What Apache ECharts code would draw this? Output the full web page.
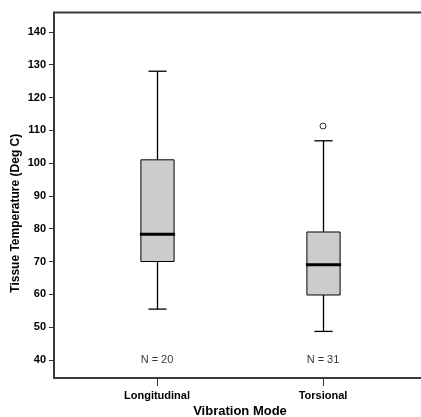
<!DOCTYPE html>
<html><head><meta charset="utf-8">
<script src="https://cdn.jsdelivr.net/npm/echarts@6/dist/echarts.min.js"></script>
<style>html,body{margin:0;padding:0;background:#fff}#c{width:421px;height:417px}</style>
</head><body><div id="c"></div>
<script>
var categories = ['Longitudinal', 'Torsional'];
// [min whisker, Q1, median, Q3, max whisker]
var boxValues = [
  [55.5, 70.0, 78.3, 101.0, 128.0],
  [48.7, 59.8, 69.0, 79.0, 106.8]
];
var outliers = [[1, 111.3]];
var nLabels = ['N = 20', 'N = 31'];
var yTicks = [40, 50, 60, 70, 80, 90, 100, 110, 120, 130, 140];
var yMin = 34.5, yMax = 145.9;

var chart = echarts.init(document.getElementById('c'), null, {renderer: 'canvas'});
var font = 'Liberation Sans, Arial, sans-serif';
var G = {top: 12.5, bottom: 39};
chart.setOption({
  animation: false,
  grid: [
    {left: 54, right: -6, top: G.top, bottom: G.bottom, show: true, borderColor: '#3a3a3a', borderWidth: 2,
     backgroundColor: 'transparent', containLabel: false, outerBoundsMode: 'none'},
    {left: 74, right: 15, top: G.top, bottom: G.bottom, containLabel: false, outerBoundsMode: 'none'}
  ],
  xAxis: [
    {gridIndex: 0, type: 'value', show: false, min: 0, max: 1},
    {gridIndex: 1, type: 'category', data: categories,
     axisLine: {show: false},
     axisTick: {show: true, alignWithLabel: true, length: 8, lineStyle: {color: '#333', width: 1}},
     axisLabel: {color: '#000', fontFamily: font, fontWeight: 'bold', fontSize: 11, margin: 12},
     name: 'Vibration Mode', nameLocation: 'middle', nameGap: 27, nameMoveOverlap: false,
     nameTextStyle: {color: '#000', fontFamily: font, fontWeight: 'bold', fontSize: 13}}
  ],
  yAxis: [
    {gridIndex: 0, type: 'value', min: yMin, max: yMax,
     axisLine: {show: false}, splitLine: {show: false},
     axisTick: {show: true, length: 5, customValues: yTicks, lineStyle: {color: '#333'}},
     axisLabel: {customValues: yTicks, color: '#000', fontFamily: font, fontWeight: 'bold', fontSize: 11, margin: 8},
     name: 'Tissue Temperature (Deg C)', nameLocation: 'middle', nameGap: 32, nameMoveOverlap: false,
     nameTextStyle: {color: '#000', fontFamily: font, fontWeight: 'bold', fontSize: 12, padding: [0, 36, 0, 0]}},
    {gridIndex: 1, type: 'value', min: yMin, max: yMax, show: false}
  ],
  series: [
    {
      type: 'custom', xAxisIndex: 1, yAxisIndex: 1,
      data: boxValues.map(function (b, i) { return [i].concat(b); }),
      renderItem: function (params, api) {
        var x = api.value(0);
        var pLo = api.coord([x, api.value(1)]);
        var pQ1 = api.coord([x, api.value(2)]);
        var pMed = api.coord([x, api.value(3)]);
        var pQ3 = api.coord([x, api.value(4)]);
        var pHi = api.coord([x, api.value(5)]);
        var cx = Math.round(pLo[0]) + 0.5;
        var bw = api.size([1, 0])[0] * 0.2;
        var cw = bw * 0.55;
        var ls = {stroke: '#000', lineWidth: 1.3};
        return {type: 'group', children: [
          {type: 'line', shape: {x1: cx, y1: pHi[1], x2: cx, y2: pQ3[1]}, style: ls},
          {type: 'line', shape: {x1: cx, y1: pQ1[1], x2: cx, y2: pLo[1]}, style: ls},
          {type: 'line', shape: {x1: cx - cw / 2, y1: pHi[1], x2: cx + cw / 2, y2: pHi[1]}, style: ls},
          {type: 'line', shape: {x1: cx - cw / 2, y1: pLo[1], x2: cx + cw / 2, y2: pLo[1]}, style: ls},
          {type: 'rect', shape: {x: cx - bw / 2, y: pQ3[1], width: bw, height: pQ1[1] - pQ3[1]},
           style: {fill: '#cccccc', stroke: '#000', lineWidth: 1}},
          {type: 'line', shape: {x1: cx - bw / 2 - 1, y1: pMed[1], x2: cx + bw / 2 + 1, y2: pMed[1]},
           style: {stroke: '#000', lineWidth: 3}}
        ]};
      }
    },
    {
      type: 'scatter', xAxisIndex: 1, yAxisIndex: 1,
      data: outliers, symbol: 'circle', symbolSize: 6,
      itemStyle: {color: '#fff', borderColor: '#000', borderWidth: 1}
    },
    {
      type: 'scatter', xAxisIndex: 1, yAxisIndex: 1,
      data: nLabels.map(function (t, i) { return {value: [i, 40], name: t}; }),
      symbolSize: 0,
      label: {show: true, position: 'inside', formatter: '{b}', color: '#000', fontFamily: font, fontSize: 11}
    }
  ]
});
</script></body></html>
